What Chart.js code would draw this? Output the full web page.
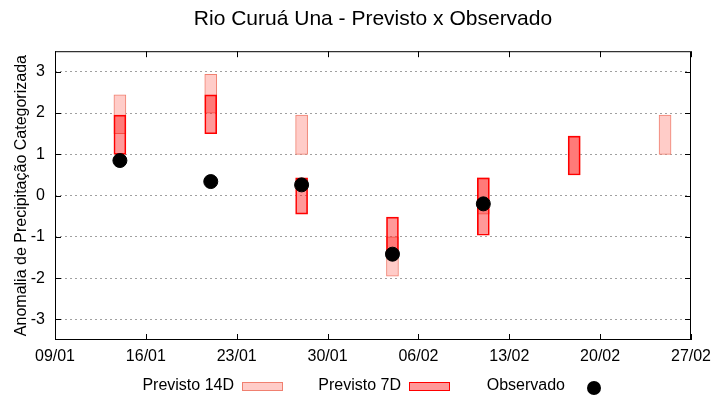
<!DOCTYPE html>
<html>
<head>
<meta charset="utf-8">
<script src="https://cdn.jsdelivr.net/npm/chart.js@4"></script>
<style>
  html, body { margin: 0; padding: 0; background: #fff; }
  #wrap { width: 720px; height: 400px; }
</style>
</head>
<body>
<div id="wrap"><canvas id="chart" width="720" height="400"></canvas></div>
<script>
// dates are DD/MM, first tick is 09/01
const xTickLabels = ['09/01', '16/01', '23/01', '30/01', '06/02', '13/02', '20/02', '27/02'];
const yTickValues = [-3, -2, -1, 0, 1, 2, 3];

const forecastDates = ['14/01', '21/01', '28/01', '04/02', '11/02', '18/02', '25/02'];
const prev14Low  = [1.5, 2.0, 1.0, -1.95, -0.45, 0.5, 1.0];
const prev14High = [2.44, 2.94, 1.95, -1.0, 0.43, 1.44, 1.95];
const prev7Low   = [1.0, 1.5, -0.45, -1.5, -0.96, 0.5, null];
const prev7High  = [1.95, 2.44, 0.43, -0.52, 0.43, 1.44, null];

const obsDates = ['14/01', '21/01', '28/01', '04/02', '11/02'];
const observed = [0.85, 0.34, 0.26, -1.42, -0.2];

function dayIndex(s) {
    const [d, m] = s.split('/').map(Number);
    const [d0, m0] = xTickLabels[0].split('/').map(Number);
    return (Date.UTC(2021, m - 1, d) - Date.UTC(2021, m0 - 1, d0)) / 86400000;
}

function rangeData(dates, lows, highs) {
    return dates.map((d, i) => lows[i] == null ? null : { x: dayIndex(d), y: [lows[i], highs[i]] })
        .filter(p => p);
}

const FONT = 'Liberation Sans, Arial, sans-serif';

// gnuplot-like frame, inward ticks and bottom key
const framePlugin = {
    id: 'frame',
    afterDraw(chart) {
        const { ctx, chartArea: a, scales } = chart;
        ctx.save();
        ctx.strokeStyle = '#000';
        ctx.lineWidth = 1;
        ctx.strokeRect(a.left + 0.5, a.top + 0.5, a.right - a.left - 1, a.bottom - a.top - 1);
        ctx.beginPath();
        yTickValues.forEach(v => {
            const y = Math.round(scales.y.getPixelForValue(v)) + 0.5;
            ctx.moveTo(a.left, y); ctx.lineTo(a.left + 6, y);
            ctx.moveTo(a.right, y); ctx.lineTo(a.right - 6, y);
        });
        xTickLabels.forEach(l => {
            const x = Math.round(scales.x.getPixelForValue(dayIndex(l))) + 0.5;
            ctx.moveTo(x, a.bottom); ctx.lineTo(x, a.bottom - 6);
            ctx.moveTo(x, a.top); ctx.lineTo(x, a.top + 6);
        });
        ctx.stroke();

        // key
        const ky = 386;
        ctx.font = '16px ' + FONT;
        ctx.fillStyle = '#000';
        ctx.textAlign = 'right';
        ctx.textBaseline = 'middle';
        const sets = chart.data.datasets;
        ctx.fillText(sets[2].label, 234, ky);
        ctx.fillStyle = sets[2].backgroundColor;
        ctx.fillRect(242, ky - 4, 40, 8);
        ctx.strokeStyle = sets[2].borderColor;
        ctx.strokeRect(242.5, ky - 3.5, 40, 8);

        ctx.fillStyle = '#000';
        ctx.fillText(sets[1].label, 401, ky);
        ctx.fillStyle = 'rgb(255,153,153)';
        ctx.fillRect(409, ky - 4, 40, 8);
        ctx.strokeStyle = sets[1].borderColor;
        ctx.strokeRect(409.5, ky - 3.5, 40, 8);

        ctx.fillStyle = '#000';
        ctx.fillText(sets[0].label, 565, ky);
        ctx.beginPath();
        ctx.arc(594, ky + 2, 7, 0, Math.PI * 2);
        ctx.fill();
        ctx.restore();
    }
};

new Chart(document.getElementById('chart'), {
    data: {
        datasets: [
            {
                type: 'scatter',
                label: 'Observado',
                data: obsDates.map((d, i) => ({ x: dayIndex(d), y: observed[i] })),
                backgroundColor: '#000',
                borderColor: '#000',
                pointRadius: 7,
                pointHoverRadius: 7,
                order: 0
            },
            {
                type: 'bar',
                label: 'Previsto 7D',
                data: rangeData(forecastDates, prev7Low, prev7High),
                backgroundColor: 'rgba(255,0,0,0.4)',
                borderColor: '#ff0000',
                borderWidth: 1,
                borderSkipped: false,
                barThickness: 12,
                grouped: false,
                order: 1
            },
            {
                type: 'bar',
                label: 'Previsto 14D',
                data: rangeData(forecastDates, prev14Low, prev14High),
                backgroundColor: 'rgb(255,204,200)',
                borderColor: 'rgb(240,128,112)',
                borderWidth: 1,
                borderSkipped: false,
                barThickness: 12,
                grouped: false,
                order: 2
            }
        ]
    },
    options: {
        responsive: false,
        animation: false,
        layout: { padding: { left: 0, right: 29, top: 0, bottom: 0 } },
        plugins: {
            legend: { display: false },
            tooltip: { enabled: false },
            title: {
                display: true,
                fullSize: false,
                text: 'Rio Curuá Una - Previsto x Observado',
                color: '#000',
                font: { family: FONT, size: 21, weight: 'normal' },
                padding: { top: 7, bottom: 19 }
            }
        },
        scales: {
            x: {
                type: 'linear',
                offset: false,
                min: 0,
                max: dayIndex(xTickLabels[xTickLabels.length - 1]),
                afterBuildTicks: s => { s.ticks = xTickLabels.map(l => ({ value: dayIndex(l), label: l })); },
                afterFit: s => { s.height = 60; },
                ticks: {
                    color: '#000',
                    font: { family: FONT, size: 16 },
                    padding: 7,
                    maxRotation: 0,
                    autoSkip: false,
                    callback: (v) => xTickLabels.find(l => dayIndex(l) === v) || ''
                },
                grid: { display: false, drawTicks: false },
                border: { display: false }
            },
            y: {
                min: -3.5,
                max: 3.5,
                afterBuildTicks: s => { s.ticks = yTickValues.map(v => ({ value: v })); },
                afterFit: s => { s.width = 55; },
                ticks: {
                    color: '#000',
                    font: { family: FONT, size: 16 },
                    padding: 10
                },
                grid: {
                    color: '#a0a0a0',
                    lineWidth: 1,
                    drawTicks: false
                },
                border: { display: false, dash: [2, 3] },
                title: {
                    display: true,
                    text: 'Anomalia de Precipitação Categorizada',
                    color: '#000',
                    font: { family: FONT, size: 16 },
                    padding: { top: 12, bottom: 0 }
                }
            }
        }
    },
    plugins: [framePlugin]
});
</script>
</body>
</html>
